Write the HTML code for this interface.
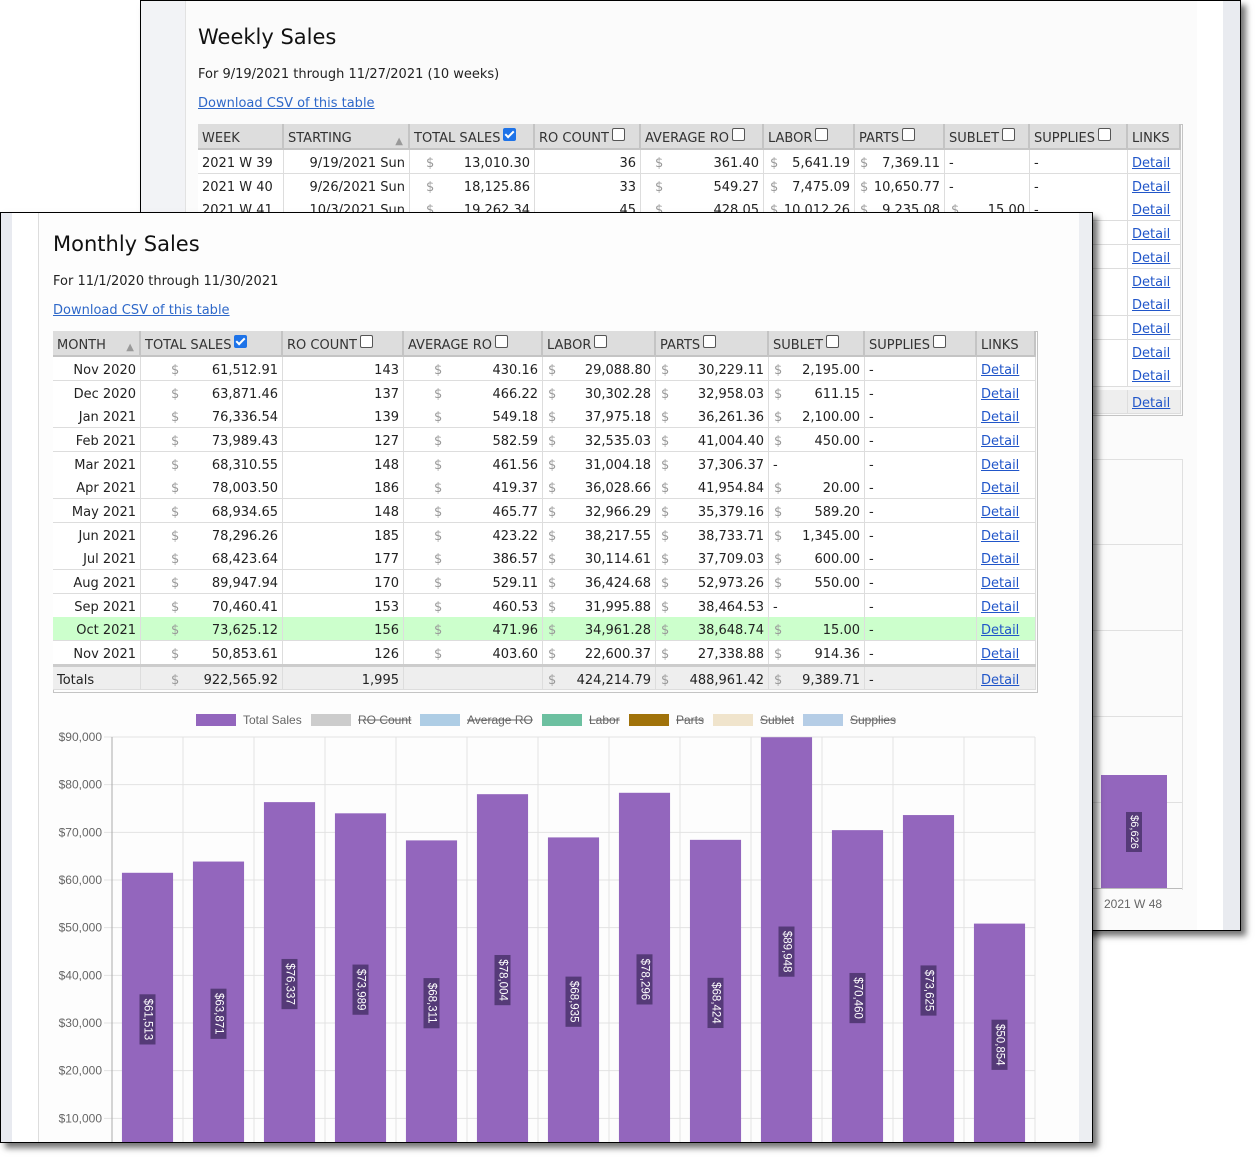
<!DOCTYPE html>
<html><head><meta charset="utf-8">
<style>
body{margin:0;width:1256px;height:1158px;background:#fff;position:relative;overflow:hidden;font-family:"DejaVu Sans","Liberation Sans",sans-serif;}
.win{position:absolute;border:1px solid #000;overflow:hidden;box-shadow:5px 5px 6px rgba(0,0,0,.55);}
.inner{position:absolute;overflow:hidden;}
.abs{position:absolute;}
.c{position:absolute;box-sizing:border-box;font-size:13px;color:#222;line-height:27px;white-space:nowrap;overflow:hidden;border-right:1px solid #ddd;border-bottom:1px solid #ddd;}
.h{background:#ddd;border-right:2px solid #c4c4c4;border-bottom:2px solid #c4c4c4;color:#333;line-height:30px;padding-left:4px;}
.r{text-align:right;padding-right:4px;}
.d{position:absolute;color:#999;}
.lnk{color:#2156c9;text-decoration:underline;padding-left:4px;}
.cb{display:inline-block;width:11px;height:11px;border:1px solid #555;border-radius:2px;background:#fff;vertical-align:1px;margin-left:3px;}
.cbk{background:#1e73e8;border-color:#1e73e8;position:relative;}
.cbk:after{content:"";position:absolute;left:3px;top:0px;width:3px;height:7px;border:solid #fff;border-width:0 2px 2px 0;transform:rotate(45deg);}
</style></head><body>

<div class="win" style="left:140px;top:0px;width:1099px;height:929px;background:#f2f3f6;">
 <div class="inner" id="wk" style="left:-141px;top:-1px;width:1256px;height:935px;">
  <div class="abs" style="left:185px;top:0;width:1011px;height:935px;background:#fbfbfb;border-left:1px solid #e2e2e2;border-right:1px solid #ddd;"></div>
  <div class="abs" style="left:1197px;top:0;width:26px;height:935px;background:#fff;"></div>
  <div class="abs" style="left:1223px;top:0;width:20px;height:935px;background:#e9ebf0;"></div>
  <div class="abs" style="left:198px;top:25px;font-size:21px;color:#111;">Weekly Sales</div>
  <div class="abs" style="left:198px;top:67px;font-size:13px;color:#222;">For 9/19/2021 through 11/27/2021 (10 weeks)</div>
  <div class="abs lnk" style="left:198px;top:96px;font-size:13px;padding:0;color:#2e68c9;">Download CSV of this table</div>
  <div class="abs" style="left:1092px;top:459px;width:90px;height:430px;border-top:1px solid #e0e0e0;border-right:1px solid #e0e0e0;"></div>
  <div class="abs" style="left:1092px;top:544px;width:90px;height:1px;background:#e0e0e0;"></div>
  <div class="abs" style="left:1092px;top:630px;width:90px;height:1px;background:#e0e0e0;"></div>
  <div class="abs" style="left:1092px;top:716px;width:90px;height:1px;background:#e0e0e0;"></div>
  <div class="abs" style="left:1092px;top:802px;width:90px;height:1px;background:#e0e0e0;"></div>
  <div class="abs" style="left:1092px;top:888px;width:90px;height:1px;background:#bbb;"></div>
  <div class="abs" style="left:1101px;top:775px;width:66px;height:113px;background:#9366bd;"></div>
  <div class="abs" style="left:1126px;top:812px;width:16px;height:40px;background:#553a78;"><div style="position:absolute;left:-12px;top:12px;width:40px;text-align:center;transform:rotate(90deg);color:#fff;font-family:'Liberation Sans',sans-serif;font-size:11px;line-height:16px;">$6,626</div></div>
  <div class="abs" style="left:1104px;top:897px;font-family:'Liberation Sans',sans-serif;font-size:12px;color:#666;">2021 W 48</div>
 </div>
</div>

<div class="win" style="left:0px;top:212px;width:1091px;height:929px;background:#fff;">
 <div class="inner" id="mo" style="left:-1px;top:-213px;width:1256px;height:1143px;">
  <div class="abs" style="left:0;top:0;width:12px;height:1143px;background:#e8eaf0;"></div>
  <div class="abs" style="left:38px;top:0;width:1040px;height:1143px;background:#fdfdfd;border-left:1px solid #ddd;border-right:1px solid #ddd;"></div>
  <div class="abs" style="left:1079px;top:0;width:20px;height:1143px;background:#eceef2;"></div>
  <div class="abs" style="left:53px;top:232px;font-size:21px;color:#111;">Monthly Sales</div>
  <div class="abs" style="left:53px;top:274px;font-size:13px;color:#222;">For 11/1/2020 through 11/30/2021</div>
  <div class="abs lnk" style="left:53px;top:303px;font-size:13px;padding:0;color:#2e68c9;">Download CSV of this table</div>
  <svg id="chart" class="abs" style="left:0;top:700px;" width="1100" height="443"></svg>
 </div>
</div>

<script>
// ---------- chart data ----------
const months = ["Nov 2020","Dec 2020","Jan 2021","Feb 2021","Mar 2021","Apr 2021","May 2021","Jun 2021","Jul 2021","Aug 2021","Sep 2021","Oct 2021","Nov 2021"];
const totalSales = [61513,63871,76337,73989,68311,78004,68935,78296,68424,89948,70460,73625,50854];
const yTicks = [10000,20000,30000,40000,50000,60000,70000,80000,90000];
const legendLabels = ["Total Sales","RO Count","Average RO","Labor","Parts","Sublet","Supplies"];
const legendColors = ["#9366bd","#cccccc","#aecde5","#6cc0a0","#a0720a","#f0e4cc","#b5cde6"];
const legendHidden = [false,true,true,true,true,true,true];

// monthly table data
const mCols=[53,141,283,404,543,656,769,865,977,1036];
const mHead=["MONTH","TOTAL SALES","RO COUNT","AVERAGE RO","LABOR","PARTS","SUBLET","SUPPLIES","LINKS"];
const mRows=[
["Nov 2020","61,512.91","143","430.16","29,088.80","30,229.11","2,195.00"],
["Dec 2020","63,871.46","137","466.22","30,302.28","32,958.03","611.15"],
["Jan 2021","76,336.54","139","549.18","37,975.18","36,261.36","2,100.00"],
["Feb 2021","73,989.43","127","582.59","32,535.03","41,004.40","450.00"],
["Mar 2021","68,310.55","148","461.56","31,004.18","37,306.37",""],
["Apr 2021","78,003.50","186","419.37","36,028.66","41,954.84","20.00"],
["May 2021","68,934.65","148","465.77","32,966.29","35,379.16","589.20"],
["Jun 2021","78,296.26","185","423.22","38,217.55","38,733.71","1,345.00"],
["Jul 2021","68,423.64","177","386.57","30,114.61","37,709.03","600.00"],
["Aug 2021","89,947.94","170","529.11","36,424.68","52,973.26","550.00"],
["Sep 2021","70,460.41","153","460.53","31,995.88","38,464.53",""],
["Oct 2021","73,625.12","156","471.96","34,961.28","38,648.74","15.00"],
["Nov 2021","50,853.61","126","403.60","22,600.37","27,338.88","914.36"]];
const mTotals=["Totals","922,565.92","1,995","","424,214.79","488,961.42","9,389.71"];

const wCols=[198,284,410,535,641,764,855,945,1030,1128,1181];
const wHead=["WEEK","STARTING","TOTAL SALES","RO COUNT","AVERAGE RO","LABOR","PARTS","SUBLET","SUPPLIES","LINKS"];
const wRows=[
["2021 W 39","9/19/2021 Sun","13,010.30","36","361.40","5,641.19","7,369.11",""],
["2021 W 40","9/26/2021 Sun","18,125.86","33","549.27","7,475.09","10,650.77",""],
["2021 W 41","10/3/2021 Sun","19,262.34","45","428.05","10,012.26","9,235.08","15.00"]];

function mk(parent,cls,x,y,w,h,name,inter){
  const e=document.createElement('div');
  e.className=cls;
  e.style.left=x+'px';e.style.top=y+'px';e.style.width=w+'px';e.style.height=h+'px';
  
  
  parent.appendChild(e);return e;
}
function dollar(cell,off){const s=document.createElement('span');s.className='d';s.style.left=off+'px';s.textContent='$';cell.appendChild(s);}

// monthly table
(function(){
  const P=document.getElementById('mo');
  const top=331,hh=26,rh=23.65;
  mk(P,'abs',53,331,983,360,'monthly-table-frame',false).style.border='1px solid #c4c4c4';
  for(let i=0;i<mHead.length;i++){
    const c=mk(P,'c h',mCols[i],top,mCols[i+1]-mCols[i],hh,'header-'+mHead[i].toLowerCase().replace(/ /g,'-'),true);
    c.textContent=mHead[i];
    if(i>=1&&i<=7){const b=document.createElement('span');b.className=i==1?'cb cbk':'cb';c.appendChild(b);}
    if(i==0){const a=document.createElement('span');a.style.cssText='position:absolute;right:5px;top:2px;color:#999;font-size:10px';a.textContent='▲';c.appendChild(a);}
  }
  const dOff=[0,30,0,30,5,5,5];
  const all=mRows.concat([mTotals]);
  for(let r=0;r<all.length;r++){
    const isT=r==mRows.length;
    const y=isT?top+hh+mRows.length*rh+3:top+hh+r*rh;
    const h=isT?23:rh;
    const bg=isT?'#eee':(r==11?'#ccffcc':'#fff');
    const row=all[r];
    for(let i=0;i<9;i++){
      const x=mCols[i],w=mCols[i+1]-mCols[i];
      const c=mk(P,'c',x,y,w,Math.ceil(h),'cell-'+(isT?'totals':row[0].toLowerCase().replace(' ','-'))+'-'+mHead[i].toLowerCase().replace(/ /g,'-'),i==8);
      c.style.background=bg;
      if(i<7){
        const v=row[i];
        if(i==0&&isT){c.style.paddingLeft='4px';c.textContent=v;}
        else if(v===''){ if(i==6){c.style.paddingLeft='4px';c.textContent='-';} }
        else{c.classList.add('r');c.textContent=v;if(i!=0&&i!=2)dollar(c,dOff[i]);}
      }else if(i==7){c.style.paddingLeft='4px';c.textContent='-';}
      else{c.classList.add('lnk');c.textContent='Detail';}
    }
  }
  mk(P,'abs',53,top+hh+mRows.length*rh,983,3,'totals-separator',false).style.background='#ccc';
})();

// weekly table
(function(){
  const P=document.getElementById('wk');
  const top=124,hh=26,rh=23.7;
  mk(P,'abs',198,124,983,290,'weekly-table-frame',false).style.border='1px solid #c4c4c4';
  for(let i=0;i<wHead.length;i++){
    const c=mk(P,'c h',wCols[i],top,wCols[i+1]-wCols[i],hh,'weekly-header-'+wHead[i].toLowerCase().replace(/ /g,'-'),true);
    c.textContent=wHead[i];
    if(i>=2&&i<=8){const b=document.createElement('span');b.className=i==2?'cb cbk':'cb';c.appendChild(b);}
    if(i==1){const a=document.createElement('span');a.style.cssText='position:absolute;right:5px;top:3px;color:#999;font-size:10px';a.textContent='▲';c.appendChild(a);}
  }
  const dOff=[0,0,16,0,14,6,5,6];
  for(let r=0;r<11;r++){
    const isT=r==10;
    const y=isT?top+hh+10*rh+3:top+hh+r*rh;
    const row=wRows[r]||null;
    for(let i=0;i<10;i++){
      const c=mk(P,'c',wCols[i],y,wCols[i+1]-wCols[i],Math.ceil(rh),'weekly-cell-'+r+'-'+i,i==9);
      c.style.background=isT?'#eee':'#fff';
      if(i==9){c.classList.add('lnk');c.textContent='Detail';continue;}
      if(!row)continue;
      if(i==0){c.style.paddingLeft='4px';c.textContent=row[0];}
      else if(i<8){const v=row[i];if(v===''){c.style.paddingLeft='4px';c.textContent='-';}else{c.classList.add('r');c.textContent=v;if(i!=1&&i!=3)dollar(c,dOff[i]);}}
      else{c.style.paddingLeft='4px';c.textContent='-';}
    }
  }
})();

// chart
(function(){
  const svg=document.getElementById('chart');
  const NS='http://www.w3.org/2000/svg';
  const oy=700;
  const left=112,right=1035,zeroY=1166,topY=737,maxV=90000;
  const band=(right-left)/months.length;
  const y=v=>zeroY-(v/maxV)*(zeroY-topY)-oy;
  const x=i=>left+i*band;
  function el(t,a,name,inter){const e=document.createElementNS(NS,t);for(const k in a)e.setAttribute(k,a[k]);
    
    
    svg.appendChild(e);return e;}
  const legX=[196,311,420,542,629,713,803];
  const texts=[];
  legendLabels.forEach((l,i)=>{
    el('rect',{x:legX[i],y:714-oy,width:40,height:12,fill:legendColors[i]},'legend-swatch-'+l.toLowerCase().replace(/ /g,'-'),true);
    const t=el('text',{x:legX[i]+47,y:724-oy,'font-family':'Liberation Sans, sans-serif','font-size':12,fill:'#666'},'legend-label-'+l.toLowerCase().replace(/ /g,'-'),true);
    t.textContent=l;
    texts.push(t);
  });
  legendLabels.forEach((l,i)=>{
    if(!legendHidden[i])return;
    const w=texts[i].getComputedTextLength();
    el('line',{x1:legX[i]+47,x2:legX[i]+47+w,y1:720-oy,y2:720-oy,stroke:'#666','stroke-width':1},'legend-strike-'+i,false);
  });
  yTicks.forEach(v=>{
    el('line',{x1:left-8,x2:right,y1:y(v),y2:y(v),stroke:'#e2e2e2'},'y-gridline-'+v,false);
    const t=el('text',{x:left-10,y:y(v)+4,'text-anchor':'end','font-family':'Liberation Sans, sans-serif','font-size':12,fill:'#666'},'y-tick-'+v,false);
    t.textContent='$'+v.toLocaleString('en-US');
  });
  for(let i=1;i<=months.length;i++) el('line',{x1:x(i),x2:x(i),y1:y(maxV),y2:443,stroke:'#e2e2e2'},'x-gridline-'+i,false);
  el('line',{x1:left,x2:left,y1:y(maxV),y2:443,stroke:'#aaa'},'y-axis',false);
  const bw=band*0.72;
  totalSales.forEach((v,i)=>{
    const bx=x(i)+(band-bw)/2;
    el('rect',{x:bx,y:y(v),width:bw,height:y(0)-y(v),fill:'#9366bd'},'bar-'+months[i].toLowerCase().replace(' ','-'),true);
    const cx=bx+bw/2,cy=(y(v)+y(0))/2;
    const lbl='$'+v.toLocaleString('en-US');
    const lh=lbl.length*6.6+4;
    el('rect',{x:cx-8,y:cy-lh/2,width:16,height:lh,fill:'#553a78'},'bar-label-bg-'+i,false);
    const t=el('text',{x:cx,y:cy,'text-anchor':'middle','dominant-baseline':'central',transform:'rotate(90 '+cx+' '+cy+')','font-family':'Liberation Sans, sans-serif','font-size':11.5,fill:'#fff'},'bar-value-label-'+months[i].toLowerCase().replace(' ','-'),false);
    t.textContent=lbl;
  });
})();
</script>
</body></html>
